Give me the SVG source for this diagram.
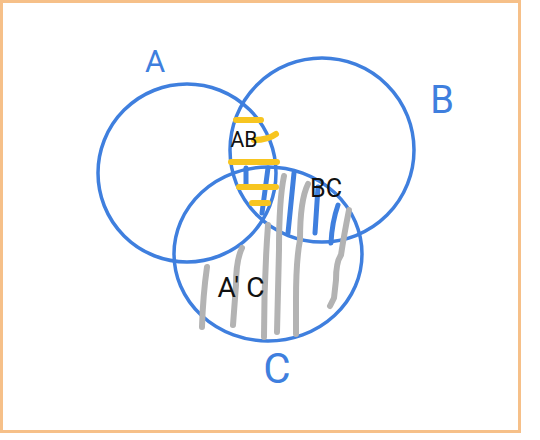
<svg xmlns="http://www.w3.org/2000/svg" width="540" height="440" viewBox="0 0 540 440">
  <style>
    .set { fill: none; stroke: #3f7fde; stroke-width: 3.5; }
    .setlabel { fill: #3f7fde; font-family: "Roboto", "Liberation Sans", sans-serif; text-anchor: middle; }
    .region { fill: #111; font-family: "Roboto", "Liberation Sans", sans-serif; text-anchor: middle; }
    .hatch { fill: none; stroke-linecap: round; stroke-linejoin: round; }
    .yellow { stroke: #f7c520; stroke-width: 6; }
    .blue { stroke: #3f7fde; stroke-width: 5; }
    .gray { stroke: #b3b3b3; stroke-width: 6; }
  </style>
  <rect x="0" y="0" width="540" height="440" fill="#ffffff"/>
  <rect x="1.5" y="1.5" width="518" height="430" fill="none" stroke="#f6c089" stroke-width="3"/>

  <g id="set-A">
    <circle class="set" cx="187" cy="173" r="89"/>
    <text class="setlabel" x="155" y="72" font-size="31">A</text>
  </g>
  <g id="set-B">
    <circle class="set" cx="322" cy="150" r="92"/>
    <text class="setlabel" x="442" y="113" font-size="38">B</text>
  </g>
  <g id="set-C">
    <ellipse class="set" cx="268" cy="254" rx="94" ry="87"/>
    <text class="setlabel" x="277" y="383" font-size="42">C</text>
  </g>

  <g id="shading">
    <path class="hatch gray" d="M207,267 Q203,295 202,327"/>
    <path class="hatch gray" d="M242,248 Q236,260 236,285 L233,325"/>
    <path class="hatch gray" d="M268,225 Q264,280 264,337"/>
    <path class="hatch gray" d="M284,176 Q279,200 279,250 L277,332"/>
    <path class="hatch gray" d="M308,184 Q300,200 300,240 Q296,260 296,300 L296,334"/>
    <path class="hatch gray" d="M349,210 Q344,235 341,255 Q336,262 336,280 L334,298 L330,306"/>

    <path class="hatch blue" d="M246,168 L246,187"/>
    <path class="hatch blue" d="M268,168 L262,213"/>
    <path class="hatch blue" d="M294,173 L288,233"/>
    <path class="hatch blue" d="M318,187 L315,233"/>
    <path class="hatch blue" d="M338,205 Q332,222 331,243"/>

    <path class="hatch yellow" d="M236,120 L261,120"/>
    <path class="hatch yellow" d="M254,140 Q268,140 276,134"/>
    <path class="hatch yellow" d="M231,162 L277,162"/>
    <path class="hatch yellow" d="M239,187 L276,187"/>
    <path class="hatch yellow" d="M252,203 L268,203"/>
  </g>

  <g id="region-labels">
    <text class="region" x="244" y="147" font-size="22" textLength="27" lengthAdjust="spacingAndGlyphs">AB</text>
    <text class="region" x="326" y="197" font-size="25" textLength="32" lengthAdjust="spacingAndGlyphs">BC</text>
    <text class="region" x="241" y="297" font-size="27" textLength="47" lengthAdjust="spacingAndGlyphs">A' C</text>
  </g>
</svg>
